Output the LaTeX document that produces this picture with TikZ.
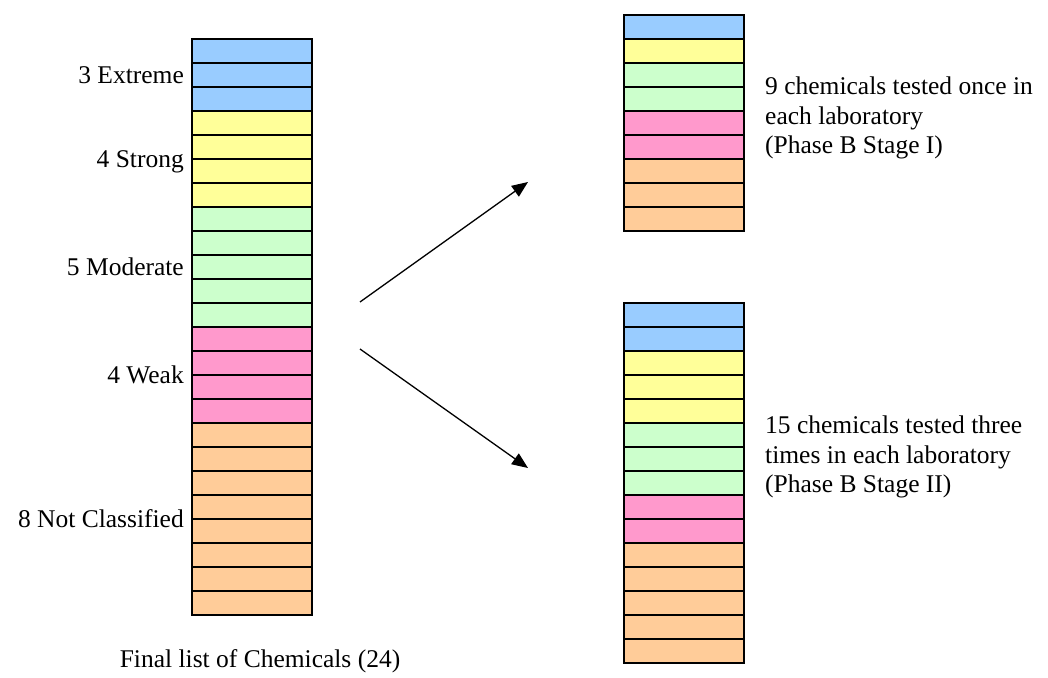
\documentclass[tikz,border=0pt]{standalone}
\usepackage{fontspec}
\setmainfont{Liberation Serif}
\usetikzlibrary{arrows.meta}

\definecolor{extremecol}{HTML}{99CCFF}
\definecolor{strongcol}{HTML}{FFFF99}
\definecolor{moderatecol}{HTML}{CCFFCC}
\definecolor{weakcol}{HTML}{FF99CC}
\definecolor{nccol}{HTML}{FFCC99}

\tikzset{
  cell/.style={draw,line width=1.2pt,minimum width=120pt,minimum height=24pt,inner sep=0pt,outer sep=0pt},
  lbl/.style={anchor=base east,inner sep=0pt,font=\fontsize{25.5}{29.5}\selectfont},
  txt/.style={anchor=west,align=left,inner sep=0pt,font=\fontsize{25.5}{29.5}\selectfont},
  split/.style={line width=1.3pt,-{Triangle[length=16pt,width=13pt]}}
}

\begin{document}
\begin{tikzpicture}[x=1pt,y=-1pt]
\useasboundingbox (0,0) rectangle (1048,677);

% final list of chemicals
\foreach \c [count=\i] in {extremecol,extremecol,extremecol,
    strongcol,strongcol,strongcol,strongcol,
    moderatecol,moderatecol,moderatecol,moderatecol,moderatecol,
    weakcol,weakcol,weakcol,weakcol,
    nccol,nccol,nccol,nccol,nccol,nccol,nccol,nccol}
  \path (252,{39+24*(\i-0.5)}) node (L\i) [cell,fill=\c] {};

\path ([xshift=-8pt,yshift=-8pt]L2.west) node (extreme) [lbl] {3 Extreme};
\path ([xshift=-8pt,yshift=-8pt]L5.south west) node (strong) [lbl] {4 Strong};
\path ([xshift=-8pt,yshift=-8pt]L10.west) node (moderate) [lbl] {5 Moderate};
\path ([xshift=-8pt,yshift=-8pt]L14.south west) node (weak) [lbl] {4 Weak};
\path ([xshift=-8pt,yshift=-8pt]L20.south west) node (notclass) [lbl] {8 Not Classified};
\path (260,661) node (caption) [txt,anchor=center] {Final list of Chemicals (24)};

% stage I
\foreach \c [count=\i] in {extremecol,strongcol,moderatecol,moderatecol,
    weakcol,weakcol,nccol,nccol,nccol}
  \path (684,{15+24*(\i-0.5)}) node (T\i) [cell,fill=\c] {};
\path ([xshift=21pt,yshift=5pt]T5.east) node (stageone) [txt]
  {9 chemicals tested once in\\each laboratory\\(Phase B Stage I)};

% stage II
\foreach \c [count=\i] in {extremecol,extremecol,strongcol,strongcol,strongcol,
    moderatecol,moderatecol,moderatecol,weakcol,weakcol,
    nccol,nccol,nccol,nccol,nccol}
  \path (684,{303+24*(\i-0.5)}) node (B\i) [cell,fill=\c] {};
\path ([xshift=21pt,yshift=2pt]B7.east) node (stagetwo) [txt]
  {15 chemicals tested three\\times in each laboratory\\(Phase B Stage II)};

\coordinate (upstart) at (360,302);
\coordinate (upend) at (528,182);
\coordinate (downstart) at (360,349);
\coordinate (downend) at (528,468);
\draw [split] (upstart) to (upend);
\draw [split] (downstart) to (downend);

\end{tikzpicture}
\end{document}
